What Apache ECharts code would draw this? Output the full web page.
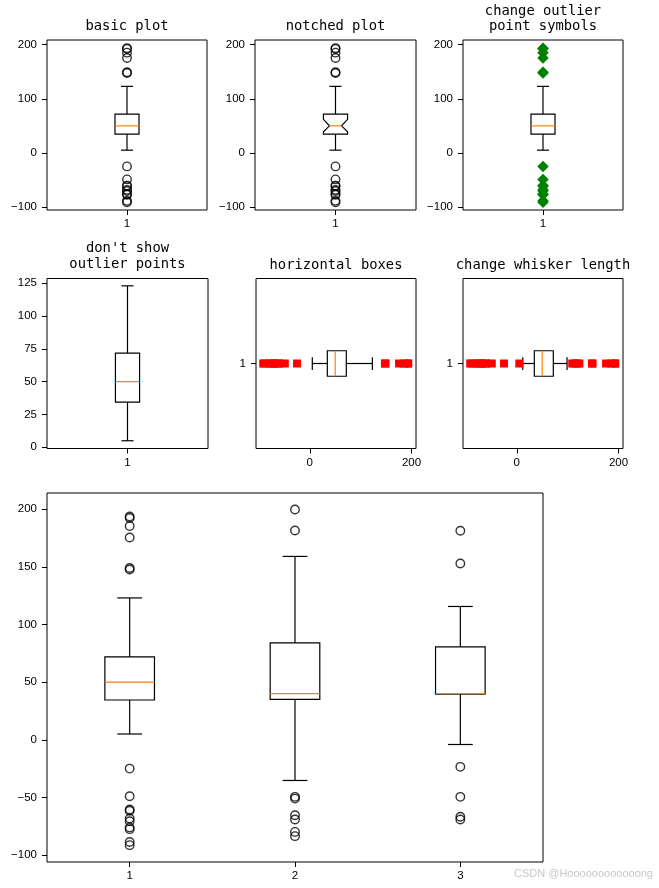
<!DOCTYPE html>
<html><head><meta charset="utf-8">
<script src="https://cdn.jsdelivr.net/npm/echarts@6/dist/echarts.min.js"></script>
<style>html,body{margin:0;padding:0;background:#fff}#c{width:659px;height:888px}</style>
</head><body><div id="c"></div>
<script>
// ---------- data ----------
const titles = ['basic plot', 'notched plot', 'change outlier\npoint symbols',
  "don't show\noutlier points", 'horizontal boxes', 'change whisker length'];
// [low whisker, Q1, median, Q3, high whisker]
const stats1 = [5, 34.5, 50, 71.8, 123];
const fliers1 = [193.6, 192.3, 185.3, 175.4, 149, 147.7, -25, -49, -60.5, -61.5, -68.3, -70.6, -76, -77.5, -88.7, -91.4];
const notch1 = [39, 62];
const statsWhis = [11.8, 34.5, 50, 71.8, 98.8];
const extraWhisFliers = [5, 109, 114, 119, 123];
const stats2 = [-35.3, 35, 40, 84, 159];
const fliers2 = [199.7, 181.5, -49.5, -51, -65.4, -69.2, -79.9, -83.6];
const stats3 = [-4.1, 39.6, 40, 80.6, 115.6];
const fliers3 = [181.2, 152.9, -23.5, -49.5, -66.8, -69.1];
const positions = [1, 2, 3];
const ticksA = [-100, 0, 100, 200];
const ticksB = [0, 25, 50, 75, 100, 125];
const ticksH = [0, 200];
const ticksBig = [-100, -50, 0, 50, 100, 150, 200];
const watermark = 'CSDN @Hoooooooooooong';

// ---------- helpers ----------
const TICK_FONT = 'Liberation Sans';
const LW = 1.2;
const fmt = v => (v < 0 ? '\u2212' + Math.abs(v) : String(v));
function valAxis(gi, min, max, ticks, isX) {
  return {
    type: 'value', gridIndex: gi, min: min, max: max,
    position: isX ? 'bottom' : 'left',
    axisLine: { show: false, onZero: false }, splitLine: { show: false },
    axisTick: { show: true, inside: false, length: 5, customValues: ticks, lineStyle: { color: '#000', width: 1 } },
    axisLabel: { customValues: ticks, color: '#000', fontSize: 11.5, fontFamily: TICK_FONT,
      margin: isX ? 8 : 10, formatter: fmt }
  };
}
function boxRenderer(horizontal, boxW, notched) {
  return function (params, api) {
    const pos = api.value(0), lo = api.value(1), q1 = api.value(2), med = api.value(3), q3 = api.value(4), hi = api.value(5);
    const P = (p, v) => horizontal ? api.coord([v, p]) : api.coord([p, v]);
    const line = (a, b, color) => ({ type: 'line', shape: { x1: a[0], y1: a[1], x2: b[0], y2: b[1] },
      style: { stroke: color || '#000', lineWidth: LW } });
    const w = boxW / 2, c = boxW / 4;
    let pts;
    if (notched) {
      const nlo = api.value(6), nhi = api.value(7);
      pts = [P(pos - w, q1), P(pos + w, q1), P(pos + w, nlo), P(pos + c, med), P(pos + w, nhi), P(pos + w, q3),
        P(pos - w, q3), P(pos - w, nhi), P(pos - c, med), P(pos - w, nlo)];
    } else {
      pts = [P(pos - w, q1), P(pos + w, q1), P(pos + w, q3), P(pos - w, q3)];
    }
    const mw = notched ? c : w;
    return { type: 'group', children: [
      line(P(pos, q1), P(pos, lo)), line(P(pos, q3), P(pos, hi)),
      line(P(pos - c, lo), P(pos + c, lo)), line(P(pos - c, hi), P(pos + c, hi)),
      { type: 'polygon', shape: { points: pts }, style: { fill: 'none', stroke: '#000', lineWidth: LW } },
      line(P(pos - mw, med), P(pos + mw, med), '#ff7f0e')
    ] };
  };
}
function boxData(pos, stats, notch) { return [pos].concat(stats, notch || []); }
function flierSeries(gi, pos, vals, horizontal, symbol, size, color, hollow) {
  return { type: 'scatter', xAxisIndex: gi, yAxisIndex: gi, symbol: symbol, symbolSize: size,
    data: vals.map(v => horizontal ? [v, pos] : [pos, v]), z: 3,
    itemStyle: hollow ? { color: 'rgba(0,0,0,0)', borderColor: '#000', borderWidth: 1.4 } : { color: color, opacity: 1 },
    emphasis: { disabled: true }, animation: false };
}

// ---------- layout ----------
const grids = [
  { left: 47, top: 40, width: 160, height: 170 },
  { left: 255, top: 40, width: 161, height: 170 },
  { left: 463, top: 40, width: 160, height: 170 },
  { left: 47, top: 278.5, width: 161, height: 170 },
  { left: 256, top: 278.5, width: 160, height: 170 },
  { left: 463, top: 278.5, width: 160, height: 170 },
  { left: 47, top: 493, width: 496, height: 369 }
].map(g => Object.assign({ show: true, borderColor: '#000', borderWidth: 1, backgroundColor: '#fff', containLabel: false, outerBoundsMode: 'none' }, g));

const A_MIN = -105.6, A_MAX = 208.7;
const xAxes = [
  valAxis(0, 0.5, 1.5, [1], true), valAxis(1, 0.5, 1.5, [1], true), valAxis(2, 0.5, 1.5, [1], true),
  valAxis(3, 0.5, 1.5, [1], true), valAxis(4, A_MIN, A_MAX, ticksH, true), valAxis(5, A_MIN, A_MAX, ticksH, true),
  valAxis(6, 0.5, 3.5, positions, true)
];
const yAxes = [
  valAxis(0, A_MIN, A_MAX, ticksA), valAxis(1, A_MIN, A_MAX, ticksA), valAxis(2, A_MIN, A_MAX, ticksA),
  valAxis(3, -0.9, 128.6, ticksB), valAxis(4, 0.5, 1.5, [1]), valAxis(5, 0.5, 1.5, [1]),
  valAxis(6, -106, 214, ticksBig)
];

const series = [];
function addBox(gi, pos, stats, horizontal, boxW, notch) {
  series.push({ type: 'custom', xAxisIndex: gi, yAxisIndex: gi, z: 2, animation: false,
    renderItem: boxRenderer(horizontal, boxW, !!notch), data: [boxData(pos, stats, notch)] });
}
addBox(0, 1, stats1, false, 0.15);
series.push(flierSeries(0, 1, fliers1, false, 'circle', 8.5, '#000', true));
addBox(1, 1, stats1, false, 0.15, notch1);
series.push(flierSeries(1, 1, fliers1, false, 'circle', 8.5, '#000', true));
addBox(2, 1, stats1, false, 0.15);
series.push(flierSeries(2, 1, fliers1, false, 'diamond', [11.5, 11.5], '#008000', false));
addBox(3, 1, stats1, false, 0.15);
addBox(4, 1, stats1, true, 0.15);
series.push(flierSeries(4, 1, fliers1, true, 'rect', 8, '#ff0000', false));
addBox(5, 1, statsWhis, true, 0.15);
series.push(flierSeries(5, 1, fliers1.concat(extraWhisFliers), true, 'rect', 8, '#ff0000', false));
const bigStats = [stats1, stats2, stats3];
const bigFliers = [fliers1, fliers2, fliers3];
positions.forEach((p, i) => {
  addBox(6, p, bigStats[i], false, 0.3);
  series.push(flierSeries(6, p, bigFliers[i], false, 'circle', 8.5, '#000', true));
});

const centers = [[127, 26.7], [335.5, 26.7], [543, 18.9], [127.5, 256.7], [336, 265], [543, 265]];
const graphic = titles.map((t, i) => ({ type: 'text', x: centers[i][0], y: centers[i][1], z: 10,
  style: { text: t, align: 'center', verticalAlign: 'middle', fill: '#000', lineHeight: 15.7,
    font: '13.8px "DejaVu Sans Mono"' } }));
graphic.push({ type: 'text', x: 514, y: 874, style: { text: watermark, verticalAlign: 'middle', fill: '#c8c8c8',
  font: '11px "Liberation Sans"' } });

const chart = echarts.init(document.getElementById('c'), null, { renderer: 'canvas' });
chart.setOption({ animation: false, backgroundColor: '#fff', grid: grids, xAxis: xAxes, yAxis: yAxes, series: series, graphic: graphic });
</script></body></html>
